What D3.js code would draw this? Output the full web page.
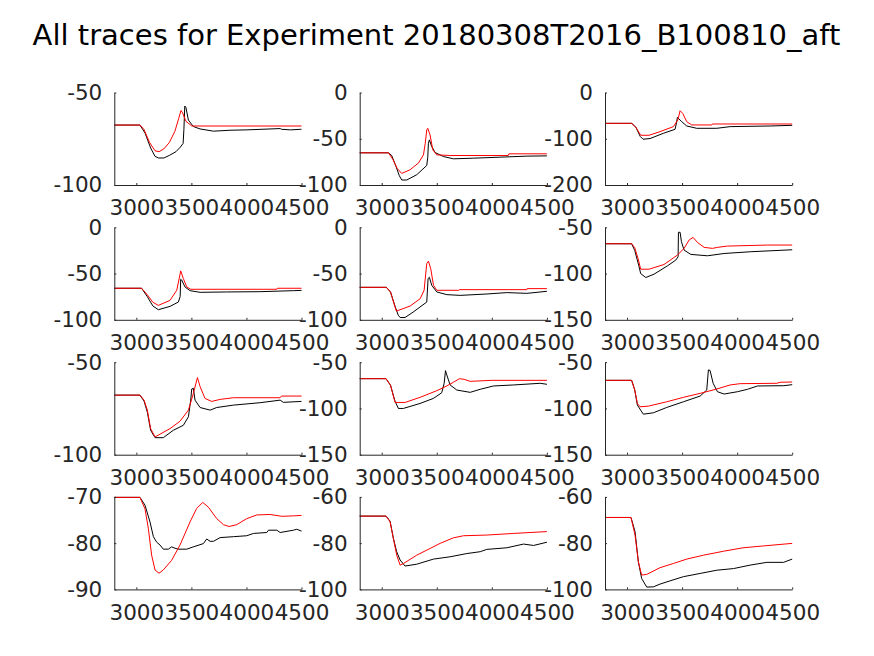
<!DOCTYPE html>
<html><head><meta charset="utf-8">
<script src="https://cdn.jsdelivr.net/npm/d3@7"></script>
<style>body{margin:0;background:#fff}svg{display:block}</style>
</head><body>
<script>
const titleText = "All traces for Experiment 20180308T2016_B100810_aft";
const xDomain = [2800, 4500];
const xTicks = [3000, 3500, 4000, 4500];
const yDomains = [[-100,-50],[-100,0],[-200,0],[-100,0],[-100,0],[-150,-50],[-100,-50],[-150,-50],[-150,-50],[-90,-70],[-100,-60],[-100,-60]];
const yTicks = [[-100,-50],[-100,-50,0],[-200,-100,0],[-100,-50,0],[-100,-50,0],[-150,-100,-50],[-100,-50],[-150,-100,-50],[-150,-100,-50],[-90,-80,-70],[-100,-80,-60],[-100,-80,-60]];

const p11k = [[2800,-67.6],[3033,-67.6],[3080,-72],[3130,-80],[3170,-84.5],[3200,-85.4],[3250,-85.4],[3300,-84],[3360,-82],[3400,-79.5],[3425,-77.5],[3432,-70],[3440,-57.3],[3450,-58],[3473,-64.9],[3518,-68.4],[3579,-69.7],[3700,-70.9],[3851,-70.4],[4003,-70.2],[4306,-69.5],[4320,-69.9],[4400,-70.2],[4488,-69.9],[4500,-69.9]];
const p11r = [[2800,-67.6],[3033,-67.6],[3070,-70],[3120,-77],[3170,-81.5],[3206,-82.0],[3250,-80.5],[3300,-77],[3350,-71],[3385,-64],[3406,-59.7],[3420,-61],[3450,-65.5],[3503,-68.1],[4500,-68.1]];
const p12k = [[2800,-65.2],[3061,-65.2],[3090,-68],[3130,-80],[3160,-90],[3182,-94.6],[3227,-94.6],[3318,-88.9],[3409,-78.9],[3418,-70],[3424,-54.8],[3433,-51.2],[3454,-58.4],[3485,-64.9],[3560,-69.2],[3651,-71.7],[3833,-71],[4076,-69.9],[4318,-68.8],[4500,-68.5]];
const p12r = [[2800,-65.2],[3061,-65.2],[3100,-72],[3140,-82],[3182,-87.5],[3258,-83.5],[3333,-76.3],[3379,-67.4],[3395,-55],[3409,-40.5],[3418,-38.7],[3439,-45.9],[3464,-62],[3500,-67.4],[3621,-68.1],[4150,-68.1],[4155,-66.3],[4500,-66.3]];
const p13k = [[2800,-66.7],[3042,-66.7],[3080,-75],[3120,-95],[3145,-101],[3209,-99.6],[3330,-88.2],[3436,-79.6],[3450,-65],[3457,-53.8],[3497,-63.1],[3542,-72.4],[3633,-77.4],[3815,-77.4],[3936,-73.8],[4300,-72.4],[4500,-71]];
const p13r = [[2800,-66.7],[3042,-66.7],[3080,-75],[3124,-92.5],[3200,-92.5],[3300,-84.6],[3421,-73.8],[3461,-59.5],[3482,-39.4],[3506,-45.2],[3542,-63.1],[3588,-70.2],[3770,-70.2],[3775,-68.1],[4500,-68.1]];
const p21k = [[2800,-65.9],[3048,-65.9],[3100,-75],[3150,-85],[3200,-89.1],[3306,-85.5],[3382,-80.8],[3398,-75],[3403,-56.2],[3412,-57],[3442,-64.5],[3488,-68.5],[3579,-70.3],[3821,-69.9],[4124,-69.6],[4427,-68.5],[4500,-68.2]];
const p21r = [[2800,-65.9],[3048,-65.9],[3100,-73],[3150,-81],[3200,-84.4],[3306,-79],[3367,-68.1],[3390,-55],[3403,-47.1],[3427,-55.4],[3458,-64.5],[3494,-67],[4276,-67],[4280,-65.9],[4500,-65.9]];
const p22k = [[2800,-64.9],[3042,-64.9],[3080,-70],[3120,-85],[3150,-95],[3167,-97.5],[3212,-97.5],[3285,-91.7],[3409,-80.8],[3421,-55.4],[3433,-54],[3454,-62.7],[3500,-69.9],[3591,-72.8],[3712,-73.6],[3955,-72.1],[4136,-70.6],[4318,-71.4],[4500,-69.2]];
const p22r = [[2800,-64.9],[3042,-64.9],[3080,-70],[3110,-82],[3133,-90.6],[3258,-85.1],[3349,-77.2],[3385,-68.1],[3409,-39.1],[3424,-36.6],[3445,-44.6],[3470,-62.7],[3500,-68.1],[3700,-68.1],[3705,-67.4],[4318,-67.4],[4320,-66.3],[4500,-66.3]];
const p23k = [[2800,-67.8],[3042,-67.8],[3070,-75],[3106,-91],[3124,-100],[3170,-104.3],[3245,-100.7],[3367,-91.7],[3442,-85.5],[3464,-81.9],[3467,-55.4],[3482,-55.4],[3494,-65.6],[3518,-74.6],[3579,-79.3],[3730,-80.8],[3882,-78.3],[4124,-76.4],[4500,-74.3]];
const p23r = [[2800,-67.8],[3042,-67.8],[3070,-72],[3100,-83.7],[3124,-95.3],[3200,-95.3],[3336,-90.2],[3457,-80.1],[3518,-72.8],[3564,-63.7],[3600,-60.9],[3639,-66.3],[3700,-71.7],[3776,-72.8],[3821,-71.7],[3912,-70.3],[4276,-69.2],[4500,-69.2]];
const p31k = [[2800,-67.8],[3033,-67.8],[3070,-71],[3100,-77],[3130,-86.8],[3170,-90.8],[3245,-90.8],[3336,-86.8],[3427,-84.1],[3473,-79.5],[3494,-70.5],[3503,-64.5],[3518,-64.1],[3533,-70.5],[3579,-74.5],[3670,-75.9],[3730,-74.5],[3882,-73.2],[4124,-71.9],[4306,-70.5],[4336,-71.7],[4500,-71.2]];
const p31r = [[2800,-67.8],[3033,-67.8],[3070,-70.5],[3100,-75.9],[3130,-85.9],[3170,-90.4],[3306,-85.9],[3397,-81.9],[3473,-75.9],[3518,-66.9],[3555,-58.3],[3579,-63.2],[3624,-69.6],[3685,-71.2],[3761,-70.1],[3882,-69.2],[4306,-69.2],[4318,-68.3],[4500,-68.3]];
const p32k = [[2800,-67.8],[3039,-67.8],[3080,-75],[3120,-92],[3151,-100],[3197,-100],[3348,-94.6],[3470,-89.1],[3545,-83],[3567,-72.8],[3579,-59.1],[3591,-63.8],[3621,-74.6],[3682,-80.1],[3803,-82.6],[3894,-79.3],[4015,-75.7],[4197,-74.6],[4439,-72.8],[4500,-73.9]];
const p32r = [[2800,-67.8],[3039,-67.8],[3080,-75],[3121,-93.5],[3212,-93.5],[3348,-88],[3500,-80.8],[3591,-75.7],[3651,-71.7],[3706,-67.8],[3748,-68.5],[3803,-70.7],[4000,-69.6],[4500,-69.6]];
const p33k = [[2800,-69.6],[3042,-69.6],[3070,-80],[3094,-96.4],[3148,-106.2],[3239,-104.7],[3361,-98.9],[3512,-92.8],[3664,-86.6],[3724,-80.1],[3739,-58.3],[3754,-58.9],[3782,-72.8],[3821,-81.9],[3882,-84.4],[4003,-81.9],[4094,-79.3],[4185,-75.7],[4424,-75.4],[4500,-74.3]];
const p33r = [[2800,-69.6],[3042,-69.6],[3070,-80],[3094,-94.6],[3118,-98.2],[3194,-97.5],[3361,-92.8],[3512,-88],[3664,-83.7],[3815,-79],[3936,-74.6],[4027,-73.2],[4361,-72.8],[4391,-71.7],[4500,-71.4]];
const p41k = [[2800,-70.1],[3033,-70.1],[3079,-71.8],[3124,-75.4],[3155,-78.6],[3185,-79.8],[3215,-80.4],[3245,-81.3],[3291,-81.3],[3320,-80.8],[3351,-81.1],[3382,-81.3],[3458,-81.3],[3518,-80.8],[3609,-80.1],[3639,-79.1],[3670,-79.6],[3700,-79.6],[3761,-78.8],[3882,-78.6],[4003,-78.4],[4064,-77.9],[4185,-77.7],[4200,-77.2],[4276,-77.2],[4306,-77.7],[4427,-77.2],[4457,-77],[4500,-77.4]];
const p41r = [[2800,-70.1],[3033,-70.1],[3079,-72.6],[3109,-76.8],[3139,-82.6],[3170,-85.8],[3206,-86.5],[3245,-85.8],[3321,-83.7],[3397,-80.4],[3488,-75.4],[3548,-72.5],[3603,-71.2],[3654,-72.2],[3730,-74.7],[3791,-76],[3842,-76.4],[3912,-76],[4003,-74.7],[4094,-73.9],[4215,-73.8],[4321,-74.2],[4427,-74.1],[4500,-74]];
const p42k = [[2800,-68.3],[3039,-68.3],[3076,-70.5],[3106,-78],[3136,-83.7],[3167,-87.3],[3212,-89.9],[3318,-89.1],[3470,-86.9],[3621,-85.9],[3773,-84.5],[3894,-83.7],[3954,-82.7],[4136,-82],[4288,-80.4],[4379,-81],[4500,-79.6]];
const p42r = [[2800,-68.3],[3039,-68.3],[3076,-70.8],[3106,-78],[3136,-85.2],[3167,-89.5],[3197,-88.8],[3318,-85.2],[3439,-82.3],[3530,-80.1],[3651,-77.7],[3742,-76.8],[3954,-76.5],[4197,-75.8],[4500,-75]];
const p43k = [[2800,-68.9],[3036,-68.9],[3073,-75.1],[3103,-88.1],[3133,-95.3],[3179,-99],[3239,-98.9],[3300,-97.7],[3391,-96.3],[3512,-94.5],[3664,-93.1],[3815,-91.7],[3967,-91],[4118,-89.5],[4270,-88.3],[4421,-88.3],[4500,-86.9]];
const p43r = [[2800,-68.9],[3036,-68.9],[3073,-76.5],[3103,-88.1],[3133,-93.8],[3179,-93.5],[3300,-90.6],[3421,-88.8],[3542,-86.9],[3694,-85.2],[3876,-83.5],[4054,-82],[4239,-81.2],[4500,-80.1]];

const blackSeries = [p11k,p12k,p13k,p21k,p22k,p23k,p31k,p32k,p33k,p41k,p42k,p43k];
const redSeries = [p11r,p12r,p13r,p21r,p22r,p23r,p31r,p32r,p33r,p41r,p42r,p43r];

const W = 874, H = 656;
const colLeft = [114.3, 359.7, 605];
const rowTop = [92.5, 227.3, 362.2, 496.9];
const pw = 187.2, ph = 92.5;
const axisColor = "#262626";
const font = "DejaVu Sans, sans-serif";
const fmt = d => String(d);

const svg = d3.select("body").append("svg").attr("width", W).attr("height", H)
  .style("font-family", font);

svg.append("text").attr("x", 436.5).attr("y", 45).attr("text-anchor", "middle")
  .attr("font-size", 29).attr("fill", "#000").text(titleText);

for (let i = 0; i < 12; i++) {
  const r = Math.floor(i / 3), c = i % 3;
  const g = svg.append("g").attr("transform", `translate(${colLeft[c]},${rowTop[r]})`);
  const x = d3.scaleLinear().domain(xDomain).range([0, pw]);
  const y = d3.scaleLinear().domain(yDomains[i]).range([ph, 0]);

  const line = d3.line().x(d => x(d[0])).y(d => y(d[1]));
  g.append("path").datum(blackSeries[i]).attr("d", line)
    .attr("fill", "none").attr("stroke", "#000").attr("stroke-width", 1);
  g.append("path").datum(redSeries[i]).attr("d", line)
    .attr("fill", "none").attr("stroke", "#ff0000").attr("stroke-width", 1);

  const xa = g.append("g").attr("transform", `translate(0,${ph})`)
    .call(d3.axisBottom(x).tickValues(xTicks).tickFormat(fmt).tickSizeInner(-2).tickSizeOuter(0).tickPadding(15));
  const ya = g.append("g")
    .call(d3.axisLeft(y).tickValues(yTicks[i]).tickFormat(fmt).tickSizeInner(-2).tickSizeOuter(0).tickPadding(12));
  [xa, ya].forEach(a => {
    a.select(".domain").attr("stroke", axisColor).attr("stroke-width", 1);
    a.selectAll(".tick line").attr("stroke", axisColor);
    a.selectAll("text").attr("fill", axisColor).attr("font-size", 21.5).attr("font-family", font);
  });
}
</script>
</body></html>
